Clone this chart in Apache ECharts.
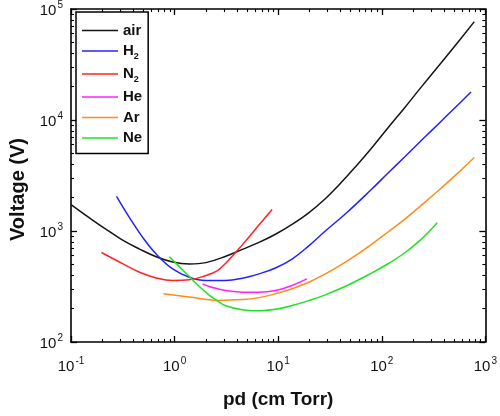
<!DOCTYPE html>
<html><head><meta charset="utf-8">
<script src="https://cdn.jsdelivr.net/npm/echarts@6/dist/echarts.min.js"></script>
<style>html,body{margin:0;padding:0;background:#fff}#c{width:500px;height:416px}</style>
</head><body><div id="c"></div>
<script>
// ---- data ----
const seriesNames = ['air', 'H2', 'N2', 'He', 'Ar', 'Ne'];
const seriesColors = ['#151515', '#2222ff', '#ff2424', '#ff22ff', '#ff8c1a', '#22e022'];

const airPd = [0.1, 0.164, 0.22, 0.318, 0.459, 0.664, 0.959, 1.387, 2.006, 3.12, 4.5, 6.52, 9.41, 13.6, 19.7, 28.5, 38.2, 55.2, 74.1, 115, 167, 240, 348, 503, 782];
const airV  = [1730, 1242, 1031, 822, 687, 586, 526, 505, 519, 592, 683, 789, 935, 1148, 1459, 1954, 2570, 3750, 5140, 8510, 12970, 19770, 30130, 45920, 77000];

const h2Pd = [0.275, 0.368, 0.494, 0.664, 0.959, 1.387, 2.006, 3.12, 4.5, 6.52, 9.41, 13.6, 19.7, 28.5, 45.8, 79.7, 115, 167, 259, 348, 503, 727];
const h2V  = [2053, 1315, 871, 620, 455, 383, 358, 358, 375, 411, 464, 559, 734, 1000, 1459, 2377, 3327, 4665, 6985, 9120, 12770, 17870];

const n2Pd = [0.197, 0.318, 0.459, 0.664, 0.959, 1.387, 2.006, 2.594, 3.12, 4.5, 6.52, 8.74];
const n2V  = [640, 505, 425, 378, 358, 363, 397, 440, 513, 750, 1132, 1560];

const hePd = [1.862, 2.158, 2.594, 3.12, 4.5, 6.52, 9.41, 13.6, 18.9];
const heV  = [334, 316, 302, 291, 281, 281, 291, 323, 370];

const arPd = [0.781, 1.387, 2.594, 4.5, 6.52, 9.41, 13.6, 19.7, 28.5, 38.2, 55.2, 79.7, 115, 167, 240, 348, 503, 782];
const arV  = [272, 254, 237, 241, 251, 272, 302, 345, 411, 480, 598, 759, 979, 1279, 1700, 2290, 3120, 4600];

const nePd = [0.891, 1.197, 1.607, 2.158, 2.594, 3.12, 4.5, 6.52, 9.41, 13.6, 19.7, 28.5, 45.8, 79.7, 115, 167, 240, 343];
const neV  = [586, 446, 338, 264, 235, 212, 195, 191, 197, 213, 236, 266, 321, 418, 507, 637, 840, 1186];

const xMajorTicks = [0.1, 1, 10, 100, 1000];
const yMajorTicks = [100, 1000, 10000, 100000];
const minorMultipliers = [2, 3, 4, 5, 6, 7, 8, 9];

// ---- build ----
const pdArrays = [airPd, h2Pd, n2Pd, hePd, arPd, nePd];
const vArrays  = [airV, h2V, n2V, heV, arV, neV];

// tick positions expressed in log10 space (for plain value axes overlaid on the log axis)
const lg = v => Math.log10(v);
function minorLogs(majors) {
  const out = [];
  for (let i = 0; i < majors.length - 1; i++)
    minorMultipliers.forEach(m => out.push(lg(majors[i] * m)));
  return out;
}

const richLabel = {
  b: { fontSize: 15, fontFamily: 'Liberation Sans', color: '#111', lineHeight: 18, verticalAlign: 'bottom' },
  s: { fontSize: 10, fontFamily: 'Liberation Sans', color: '#111', lineHeight: 18, verticalAlign: 'top', padding: [0, 0, 0, 1] }
};
function powLabel(v) {
  const e = Math.round(Math.log10(v));
  return '{b|10}{s|' + e + '}';
}

const lineSty = { color: '#000', width: 1.6 };

function makeAxes(dim, majors, name) {
  const min = majors[0], max = majors[majors.length - 1];
  const isX = dim === 'x';
  const main = {
    type: 'log', logBase: 10, min: min, max: max, position: isX ? 'bottom' : 'left',
    axisLine: { show: true, onZero: false, lineStyle: lineSty },
    axisTick: { show: true, inside: true, length: 6, lineStyle: { color: '#000', width: 1.3 } },
    axisLabel: { show: true, formatter: powLabel, rich: richLabel, margin: isX ? 14 : 8 },
    splitLine: { show: false }, minorTick: { show: false },
    name: name, nameLocation: 'middle',
    nameGap: isX ? 48 : 43,
    nameTextStyle: isX
      ? { fontSize: 19, fontWeight: 'bold', fontFamily: 'Liberation Sans', color: '#111' }
      : { fontSize: 20, fontWeight: 'bold', fontFamily: 'Liberation Sans', color: '#111', padding: [0, 28, 0, 0] }
  };
  const lmin = lg(min), lmax = lg(max);
  const mirror = {
    type: 'value', min: lmin, max: lmax, position: isX ? 'top' : 'right',
    axisLine: { show: true, onZero: false, lineStyle: lineSty },
    axisTick: { show: true, inside: true, length: 6, customValues: majors.map(lg), lineStyle: { color: '#000', width: 1.3 } },
    axisLabel: { show: false }, splitLine: { show: false }
  };
  const minorAx = (pos) => ({
    type: 'value', min: lmin, max: lmax, position: pos,
    axisLine: { show: false, onZero: false },
    axisTick: { show: true, inside: true, length: 3, customValues: minorLogs(majors), lineStyle: { color: '#000', width: 1.1 } },
    axisLabel: { show: false }, splitLine: { show: false }
  });
  return [main, mirror, minorAx(isX ? 'bottom' : 'left'), minorAx(isX ? 'top' : 'right')];
}

const legendRich = {
  t: { fontSize: 15, fontWeight: 'bold', fontFamily: 'Liberation Sans', color: '#111', lineHeight: 20, verticalAlign: 'middle' },
  u: { fontSize: 9, fontWeight: 'bold', fontFamily: 'Liberation Sans', color: '#111', lineHeight: 8, verticalAlign: 'bottom' }
};

const series = seriesNames.map((n, i) => ({
  name: n, type: 'line', xAxisIndex: 0, yAxisIndex: 0,
  data: pdArrays[i].map((p, k) => [p, vArrays[i][k]]),
  smooth: 0.4, showSymbol: false, symbol: 'none',
  lineStyle: { color: seriesColors[i], width: 1.5 },
  itemStyle: { color: seriesColors[i] }
}));

const chart = echarts.init(document.getElementById('c'), null, { renderer: 'canvas' });
chart.setOption({
  backgroundColor: '#fff',
  animation: false,
  grid: { left: 71, right: 12, top: 6, bottom: 74, containLabel: false },
  xAxis: makeAxes('x', xMajorTicks, 'pd (cm Torr)'),
  yAxis: makeAxes('y', yMajorTicks, 'Voltage (V)'),
  legend: {
    orient: 'vertical', left: 76, top: 12,
    data: seriesNames,
    itemWidth: 36, itemHeight: 12, itemGap: 5.5,
    padding: [11, 6, 8, 6],
    borderColor: '#000', borderWidth: 1.5,
    backgroundColor: '#fff',
    icon: 'path://M0,0 L36,0 L36,1.5 L0,1.5 Z',
    formatter: function (n) {
      const m = n.match(/^([A-Za-z]+)(\d*)$/);
      return m[2] ? '{t|' + m[1] + '}{u|' + m[2] + '}' : '{t|' + n + '}';
    },
    textStyle: { rich: legendRich }
  },
  series: series
});
</script>
</body></html>
